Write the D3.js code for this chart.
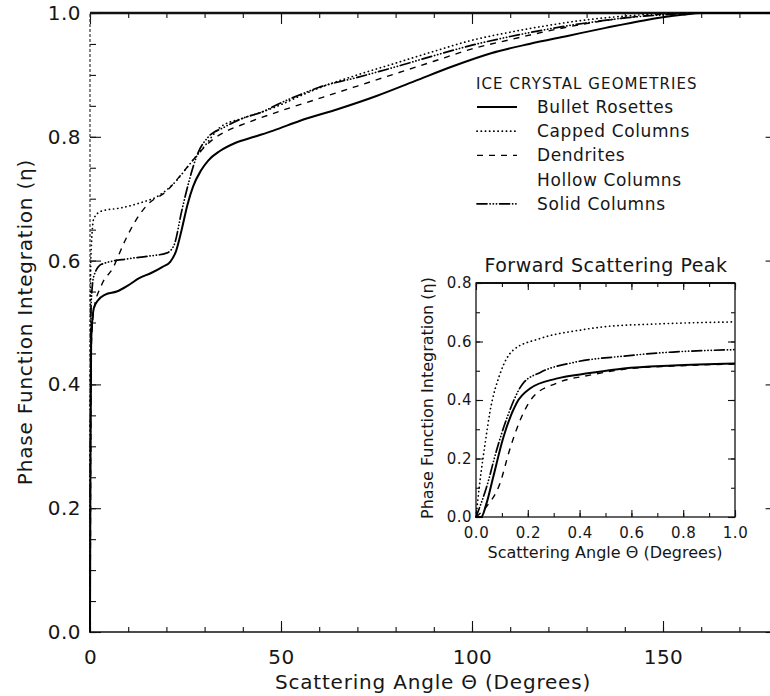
<!DOCTYPE html>
<html>
<head>
<meta charset="utf-8">
<script src="https://cdn.jsdelivr.net/npm/d3@7/dist/d3.min.js"></script>
<style>
  html, body { margin: 0; padding: 0; background: #fff; }
  svg { display: block; }
  text { font-family: "DejaVu Sans", sans-serif; fill: #161616; }
</style>
</head>
<body>
<svg id="chart" width="770" height="696"></svg>
<script>
// Cumulative phase-function integration for five ice crystal habits.
// Main panel: scattering angle 0-180 degrees; inset: forward peak 0-1 degree.

const seriesNames = ["Bullet Rosettes", "Capped Columns", "Dendrites", "Hollow Columns", "Solid Columns"];

// Main panel: [angle (deg), eta]
const bulletRosettes = [
  [0, 0], [0.1, 0.25], [0.3, 0.47], [1, 0.523], [2, 0.535], [4, 0.545], [7, 0.55], [10, 0.56],
  [13, 0.572], [16, 0.58], [19, 0.59], [21, 0.598], [22.5, 0.615], [24, 0.65], [25.5, 0.69],
  [27, 0.72], [29, 0.745], [31, 0.762], [34, 0.777], [38, 0.79], [43, 0.80], [48, 0.81],
  [55, 0.826], [65, 0.845], [75, 0.866], [85, 0.89], [95, 0.914], [105, 0.935], [115, 0.95],
  [125, 0.963], [135, 0.976], [145, 0.988], [155, 0.997], [160, 1.0], [180, 1.0]
];
const cappedColumns = [
  [0, 0], [0.05, 0.3], [0.2, 0.6], [1, 0.668], [3, 0.68], [8, 0.685], [13, 0.693], [18, 0.705],
  [22, 0.725], [26, 0.755], [30, 0.785], [34, 0.815], [40, 0.83], [45, 0.84], [50, 0.852],
  [55, 0.866], [60, 0.879], [70, 0.9], [80, 0.919], [90, 0.938], [100, 0.956], [110, 0.969],
  [120, 0.98], [130, 0.989], [140, 0.995], [150, 0.999], [160, 1.0], [180, 1.0]
];
const dendrites = [
  [0, 0], [0.1, 0.12], [0.3, 0.45], [1, 0.52], [3, 0.56], [6, 0.588], [9, 0.63], [12, 0.665],
  [15, 0.69], [20, 0.712], [24, 0.74], [28, 0.77], [32, 0.795], [36, 0.81], [40, 0.82],
  [50, 0.842], [60, 0.862], [70, 0.882], [80, 0.902], [90, 0.922], [100, 0.942], [110, 0.957],
  [120, 0.971], [130, 0.983], [140, 0.992], [150, 0.998], [160, 1.0], [180, 1.0]
];
const solidColumns = [
  [0, 0], [0.1, 0.3], [0.3, 0.53], [1, 0.575], [3, 0.594], [10, 0.603], [15, 0.607], [20, 0.612],
  [22, 0.625], [24, 0.68], [26, 0.73], [28, 0.77], [31, 0.80], [35, 0.815], [40, 0.83],
  [45, 0.84], [50, 0.855], [55, 0.868], [60, 0.88], [70, 0.896], [80, 0.913], [90, 0.931],
  [100, 0.948], [110, 0.962], [120, 0.974], [130, 0.984], [140, 0.992], [150, 0.997],
  [160, 1.0], [180, 1.0]
];

// Inset: forward scattering peak, [angle (deg), eta]
const peakBullet = [
  [0, 0], [0.02, 0.0], [0.04, 0.045], [0.066, 0.135], [0.105, 0.27], [0.157, 0.39], [0.21, 0.44],
  [0.31, 0.473], [0.44, 0.492], [0.57, 0.508], [0.76, 0.518], [1.0, 0.525]
];
const peakCapped = [
  [0, 0], [0.015, 0.12], [0.035, 0.25], [0.054, 0.36], [0.093, 0.49], [0.143, 0.57], [0.247, 0.61],
  [0.41, 0.64], [0.49, 0.65], [0.7, 0.66], [1.0, 0.667]
];
const peakDendrites = [
  [0, 0], [0.04, 0.035], [0.093, 0.116], [0.13, 0.23], [0.17, 0.33], [0.22, 0.41], [0.31, 0.457],
  [0.44, 0.485], [0.57, 0.505], [0.76, 0.516], [1.0, 0.523]
];
const peakSolid = [
  [0, 0], [0.04, 0.1], [0.08, 0.23], [0.12, 0.34], [0.18, 0.455], [0.25, 0.495], [0.375, 0.528],
  [0.57, 0.55], [0.76, 0.564], [1.0, 0.572]
];

const xTicksMain = [0, 50, 100, 150];
const xMinorMain = d3.range(0, 181, 10);
const yTicksMain = [0.0, 0.2, 0.4, 0.6, 0.8, 1.0];
const yMinorMain = d3.range(0, 1.0001, 0.05);
const xTicksPeak = [0.0, 0.2, 0.4, 0.6, 0.8, 1.0];
const xMinorPeak = d3.range(0, 1.0001, 0.1);
const yTicksPeak = [0.0, 0.2, 0.4, 0.6, 0.8];
const yMinorPeak = d3.range(0, 0.8001, 0.1);

// Line styles for each habit (Hollow Columns has no visible sample)
const styles = {
  "Bullet Rosettes": { dash: null, width: 2.0, cap: "butt" },
  "Capped Columns": { dash: "0.2,4", width: 1.7, cap: "round" },
  "Dendrites": { dash: "6,6", width: 1.4, cap: "butt" },
  "Hollow Columns": null,
  "Solid Columns": { dash: "10,3,0.2,3,0.2,3,0.2,3", width: 1.7, cap: "round" }
};

const mainSeries = [
  { name: "Bullet Rosettes", values: bulletRosettes },
  { name: "Capped Columns", values: cappedColumns },
  { name: "Dendrites", values: dendrites },
  { name: "Solid Columns", values: solidColumns }
];
const peakSeries = [
  { name: "Bullet Rosettes", values: peakBullet },
  { name: "Capped Columns", values: peakCapped },
  { name: "Dendrites", values: peakDendrites },
  { name: "Solid Columns", values: peakSolid }
];

const svg = d3.select("#chart");
const fmt = d3.format(".1f");

function styleAxis(g, fontSize) {
  g.select(".domain").remove();
  g.selectAll(".tick line").attr("stroke", "#111").attr("stroke-width", 1.1);
  g.selectAll("text").style("font-size", fontSize + "px").style("letter-spacing", "0.5px")
    .attr("fill", "#161616");
}

function applyStyle(sel, s) {
  sel.attr("fill", "none").attr("stroke", "#000")
    .attr("stroke-width", s.width).attr("stroke-linecap", s.cap);
  if (s.dash) sel.attr("stroke-dasharray", s.dash);
}

// ---------- Main panel ----------
const x = d3.scaleLinear().domain([0, 180]).range([90, 777.6]);
const y = d3.scaleLinear().domain([0, 1]).range([632, 13]);

const main = svg.append("g");

// minor ticks
main.append("g").attr("transform", `translate(0,${y(0)})`)
  .call(d3.axisBottom(x).tickValues(xMinorMain).tickSize(-5).tickFormat(""))
  .call(g => styleAxis(g, 10));
main.append("g").attr("transform", `translate(0,${y(1)})`)
  .call(d3.axisTop(x).tickValues(xMinorMain).tickSize(-5).tickFormat(""))
  .call(g => styleAxis(g, 10));
main.append("g").attr("transform", `translate(${x(0)},0)`)
  .call(d3.axisLeft(y).tickValues(yMinorMain).tickSize(-6).tickFormat(""))
  .call(g => styleAxis(g, 10));
main.append("g").attr("transform", `translate(${x(180)},0)`)
  .call(d3.axisRight(y).tickValues(yMinorMain).tickSize(-6).tickFormat(""))
  .call(g => styleAxis(g, 10));

// major ticks + labels
main.append("g").attr("transform", `translate(0,${y(0)})`)
  .call(d3.axisBottom(x).tickValues(xTicksMain).tickSize(-11).tickPadding(18).tickFormat(d3.format("d")))
  .call(g => styleAxis(g, 20));
main.append("g").attr("transform", `translate(0,${y(1)})`)
  .call(d3.axisTop(x).tickValues(xTicksMain).tickSize(-11).tickFormat(""))
  .call(g => styleAxis(g, 10));
main.append("g").attr("transform", `translate(${x(0)},0)`)
  .call(d3.axisLeft(y).tickValues(yTicksMain).tickSize(-11).tickPadding(9).tickFormat(fmt))
  .call(g => styleAxis(g, 20));
main.append("g").attr("transform", `translate(${x(180)},0)`)
  .call(d3.axisRight(y).tickValues(yTicksMain).tickSize(-12).tickFormat(""))
  .call(g => styleAxis(g, 10));

// frame
main.append("line").attr("x1", x(0)).attr("x2", x(180)).attr("y1", y(0)).attr("y2", y(0))
  .attr("stroke", "#111").attr("stroke-width", 1.6);
main.append("line").attr("x1", x(0)).attr("x2", x(180)).attr("y1", y(1)).attr("y2", y(1))
  .attr("stroke", "#111").attr("stroke-width", 2.4);
main.append("line").attr("x1", x(0)).attr("x2", x(0)).attr("y1", y(0)).attr("y2", y(1))
  .attr("stroke", "#333").attr("stroke-width", 1.2).attr("stroke-dasharray", "3,2");

const lineMain = d3.line().x(d => x(d[0])).y(d => y(d[1])).curve(d3.curveMonotoneX);
main.selectAll("path.series").data(mainSeries).join("path")
  .attr("class", "series")
  .attr("d", d => lineMain(d.values))
  .each(function (d) { applyStyle(d3.select(this), styles[d.name]); });

// axis titles
main.append("text").attr("x", 433).attr("y", 689).attr("text-anchor", "middle")
  .style("font-size", "20px").style("letter-spacing", "0.8px").text("Scattering Angle \u0398 (Degrees)");
main.append("text").attr("transform", "translate(25,322) rotate(-90)")
  .attr("text-anchor", "middle").attr("dominant-baseline", "central")
  .style("font-size", "20px").style("letter-spacing", "0.8px").text("Phase Function Integration (\u03B7)");

// ---------- Legend ----------
const legend = svg.append("g");
legend.append("text").attr("x", 476).attr("y", 89)
  .style("font-size", "15px").style("letter-spacing", "1.1px").text("ICE CRYSTAL GEOMETRIES");
seriesNames.forEach((name, i) => {
  const cy = 107 + i * 24.2;
  const s = styles[name];
  if (s) {
    const l = legend.append("line").attr("x1", 477).attr("x2", 517).attr("y1", cy).attr("y2", cy);
    applyStyle(l, s);
  }
  legend.append("text").attr("x", 537).attr("y", cy).attr("dominant-baseline", "central")
    .style("font-size", "17px").style("letter-spacing", "0.6px").text(name);
});

// ---------- Inset: forward scattering peak ----------
const xi = d3.scaleLinear().domain([0, 1]).range([476, 735]);
const yi = d3.scaleLinear().domain([0, 0.8]).range([517, 283]);
const inset = svg.append("g");

inset.append("rect").attr("x", xi(0)).attr("y", yi(0.8))
  .attr("width", xi(1) - xi(0)).attr("height", yi(0) - yi(0.8))
  .attr("fill", "#fff").attr("stroke", "#111").attr("stroke-width", 1.3);
inset.append("line").attr("x1", xi(0)).attr("x2", xi(1)).attr("y1", yi(0.8)).attr("y2", yi(0.8))
  .attr("stroke", "#111").attr("stroke-width", 2.2);

inset.append("g").attr("transform", `translate(0,${yi(0)})`)
  .call(d3.axisBottom(xi).tickValues(xMinorPeak).tickSize(-4).tickFormat(""))
  .call(g => styleAxis(g, 10));
inset.append("g").attr("transform", `translate(0,${yi(0.8)})`)
  .call(d3.axisTop(xi).tickValues(xMinorPeak).tickSize(-4).tickFormat(""))
  .call(g => styleAxis(g, 10));
inset.append("g").attr("transform", `translate(${xi(0)},0)`)
  .call(d3.axisLeft(yi).tickValues(yMinorPeak).tickSize(-4).tickFormat(""))
  .call(g => styleAxis(g, 10));
inset.append("g").attr("transform", `translate(${xi(1)},0)`)
  .call(d3.axisRight(yi).tickValues(yMinorPeak).tickSize(-4).tickFormat(""))
  .call(g => styleAxis(g, 10));

inset.append("g").attr("transform", `translate(0,${yi(0)})`)
  .call(d3.axisBottom(xi).tickValues(xTicksPeak).tickSize(-7).tickPadding(10).tickFormat(fmt))
  .call(g => styleAxis(g, 15));
inset.append("g").attr("transform", `translate(${xi(0)},0)`)
  .call(d3.axisLeft(yi).tickValues(yTicksPeak).tickSize(-7).tickPadding(4).tickFormat(fmt))
  .call(g => styleAxis(g, 15));
inset.append("g").attr("transform", `translate(${xi(1)},0)`)
  .call(d3.axisRight(yi).tickValues(yTicksPeak).tickSize(-7).tickFormat(""))
  .call(g => styleAxis(g, 10));
inset.append("g").attr("transform", `translate(0,${yi(0.8)})`)
  .call(d3.axisTop(xi).tickValues(xTicksPeak).tickSize(-7).tickFormat(""))
  .call(g => styleAxis(g, 10));

const linePeak = d3.line().x(d => xi(d[0])).y(d => yi(d[1])).curve(d3.curveMonotoneX);
inset.selectAll("path.series").data(peakSeries).join("path")
  .attr("class", "series")
  .attr("d", d => linePeak(d.values))
  .each(function (d) { applyStyle(d3.select(this), styles[d.name]); });

inset.append("text").attr("x", 606).attr("y", 272).attr("text-anchor", "middle")
  .style("font-size", "19px").style("letter-spacing", "0.5px").text("Forward Scattering Peak");
inset.append("text").attr("x", 605).attr("y", 558).attr("text-anchor", "middle")
  .style("font-size", "16px").text("Scattering Angle \u0398 (Degrees)");
inset.append("text").attr("transform", "translate(427,398) rotate(-90)")
  .attr("text-anchor", "middle").attr("dominant-baseline", "central")
  .style("font-size", "16px").text("Phase Function Integration (\u03B7)");
</script>
</body>
</html>
